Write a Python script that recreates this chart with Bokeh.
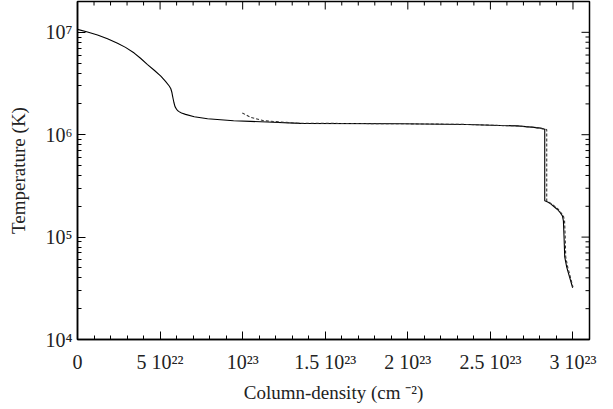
import math
from bokeh.plotting import figure
from bokeh.models import FixedTicker, Range1d
from bokeh.embed import file_html
from bokeh.resources import INLINE

# Solid curve: column density (cm^-2) and temperature (K)
solid_N = [0.0, 0.606e22, 1.211e22, 1.817e22, 2.423e22, 2.907e22, 3.434e22,
           3.816e22, 4.240e22, 4.664e22, 5.045e22, 5.330e22, 5.554e22,
           5.651e22, 5.712e22, 5.754e22, 5.796e22, 5.845e22, 5.905e22,
           5.996e22, 6.117e22, 6.299e22, 6.541e22, 7.068e22, 7.874e22,
           8.66e22, 9.45e22, 10.48e22, 11.49e22, 13.5e22, 19.56e22,
           23.56e22, 25.62e22, 26.63e22, 27.64e22, 28.05e22, 28.29e22,
           28.29e22, 28.47e22, 28.65e22, 28.86e22, 29.06e22, 29.23e22,
           29.36e22, 29.42e22, 29.46e22, 29.50e22, 29.62e22, 29.98e22]
solid_T = [1.069e7, 1.007e7, 9.42e6, 8.65e6, 7.83e6, 7.13e6, 6.27e6,
           5.58e6, 4.84e6, 4.24e6, 3.73e6, 3.32e6, 2.99e6,
           2.81e6, 2.60e6, 2.40e6, 2.22e6, 2.04e6, 1.88e6,
           1.77e6, 1.69e6, 1.63e6, 1.58e6, 1.50e6, 1.43e6,
           1.40e6, 1.37e6, 1.35e6, 1.33e6, 1.29e6, 1.28e6,
           1.26e6, 1.23e6, 1.22e6, 1.18e6, 1.16e6, 1.13e6,
           2.26e5, 2.20e5, 2.11e5, 1.98e5, 1.86e5, 1.73e5,
           1.61e5, 1.44e5, 9.9e4, 6.4e4, 5.1e4, 3.2e4]

# Dashed curve
dash_N = [9.98e22, 10.48e22, 11.28e22, 12.3e22, 13.3e22, 19.56e22, 23.56e22,
          25.62e22, 26.63e22, 27.64e22, 28.35e22, 28.41e22, 28.41e22,
          28.72e22, 29.12e22, 29.42e22, 29.49e22, 29.53e22, 29.56e22,
          29.68e22, 30.0e22]
dash_T = [1.63e6, 1.48e6, 1.37e6, 1.33e6, 1.295e6, 1.28e6, 1.26e6,
          1.23e6, 1.22e6, 1.18e6, 1.13e6, 1.12e6, 2.26e5,
          2.11e5, 1.86e5, 1.61e5, 1.44e5, 9.9e4, 6.4e4,
          5.1e4, 3.25e4]

x_ticks = [0.0, 5e22, 1e23, 1.5e23, 2e23, 2.5e23, 3e23]
x_tick_labels = ["0", "5 10²²", "10²³", "1.5 10²³", "2 10²³", "2.5 10²³", "3 10²³"]
x_minor = [i * 1e22 for i in range(0, 32)]
y_ticks = [1e4, 1e5, 1e6, 1e7]
y_tick_labels = ["10⁴", "10⁵", "10⁶", "10⁷"]
y_minor = [m * 10 ** e for e in range(4, 8) for m in range(1, 10)]

X_MAX = 3.1e23
Y_MIN, Y_MAX = 1e4, 2e7
FONT = "Liberation Serif"

p = figure(width=597, height=405, y_axis_type="log",
           x_range=Range1d(0, X_MAX), y_range=Range1d(Y_MIN, Y_MAX),
           output_backend="svg", toolbar_location=None,
           min_border_left=77, min_border_right=8, min_border_top=1,
           min_border_bottom=62)
p.grid.visible = False
p.outline_line_color = "black"
p.outline_line_width = 1.5
p.background_fill_color = "white"
p.border_fill_color = "white"

p.line(solid_N, solid_T, line_color="black", line_width=1.1)
p.line(dash_N, dash_T, line_color="#333333", line_width=1.1, line_dash="3 2")

# mirrored inward ticks on the top and right edges
x_minor_only = [v for v in x_minor if v not in x_ticks]
y_minor_only = [v for v in y_minor if v not in y_ticks and v <= Y_MAX]
p.ray(x=x_ticks, y=[Y_MAX] * len(x_ticks), length=8, angle=-math.pi / 2,
      length_units="screen", line_color="black", line_width=1)
p.ray(x=x_minor_only, y=[Y_MAX] * len(x_minor_only), length=4, angle=-math.pi / 2,
      length_units="screen", line_color="black", line_width=1)
p.ray(x=[X_MAX] * len(y_ticks), y=y_ticks, length=8, angle=math.pi,
      length_units="screen", line_color="black", line_width=1)
p.ray(x=[X_MAX] * len(y_minor_only), y=y_minor_only, length=4, angle=math.pi,
      length_units="screen", line_color="black", line_width=1)


def style(ax):
    ax.axis_line_color = "black"
    ax.axis_line_width = 1.5
    ax.major_tick_in = 8
    ax.major_tick_out = 0
    ax.minor_tick_in = 4
    ax.minor_tick_out = 0
    ax.major_tick_line_color = "black"
    ax.minor_tick_line_color = "black"
    ax.major_label_text_font = FONT
    ax.axis_label_text_font = FONT
    ax.axis_label_text_font_style = "normal"
    ax.axis_label_text_font_size = "19px"
    ax.major_label_text_font_size = "20px"
    ax.major_label_text_color = "#222222"
    ax.axis_label_text_color = "#222222"


xa = p.xaxis[0]
xa.ticker = FixedTicker(ticks=x_ticks, minor_ticks=x_minor)
xa.major_label_overrides = {t: s for t, s in zip(x_ticks, x_tick_labels)}
xa.axis_label = "Column-density (cm ⁻²)"
style(xa)
xa.major_label_standoff = 11
xa.axis_label_standoff = 6

ya = p.yaxis[0]
ya.ticker = FixedTicker(ticks=y_ticks, minor_ticks=y_minor)
ya.major_label_overrides = {t: s for t, s in zip(y_ticks, y_tick_labels)}
ya.axis_label = "Temperature (K)"
style(ya)
ya.major_label_standoff = 5
ya.axis_label_standoff = 14

open("out.html", "w").write(file_html(p, INLINE))
